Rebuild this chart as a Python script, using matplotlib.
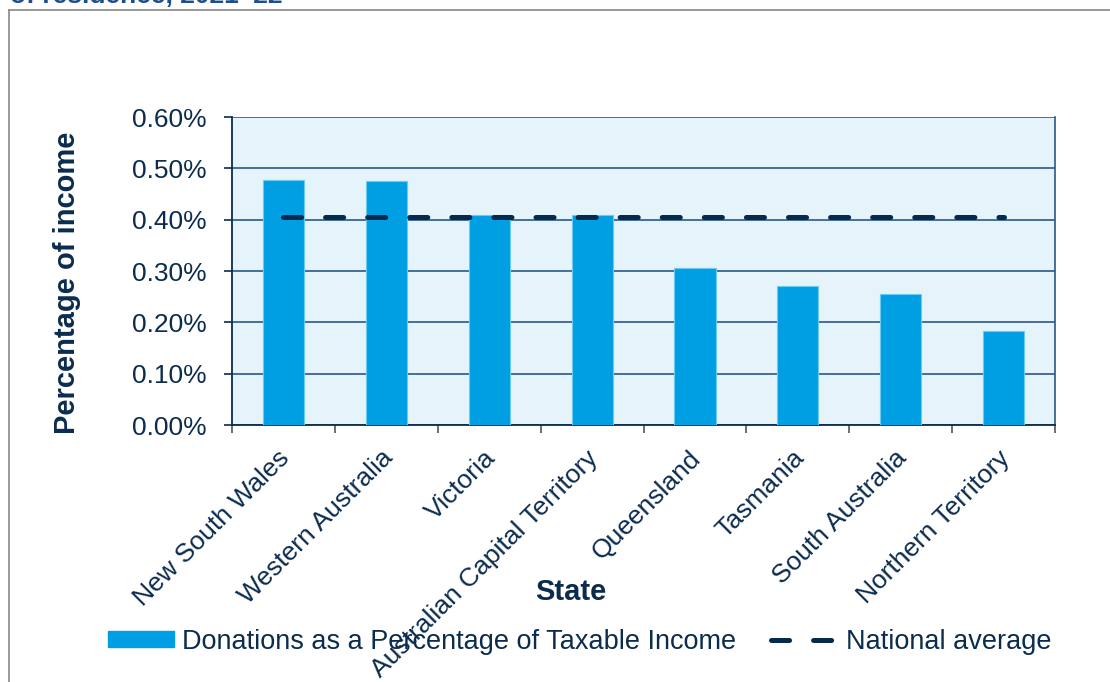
import matplotlib.pyplot as plt
import matplotlib.transforms as mtransforms
from matplotlib.ticker import FuncFormatter, FixedLocator
from matplotlib.lines import Line2D
from matplotlib.patches import Patch

plt.rcParams['font.family'] = ['Liberation Sans', 'DejaVu Sans']
plt.rcParams['lines.scale_dashes'] = False

# donations as a share of taxable income by state, 2021-22 (percent)
states = ['New South Wales', 'Western Australia', 'Victoria',
          'Australian Capital Territory', 'Queensland', 'Tasmania',
          'South Australia', 'Northern Territory']
donation_pct = [0.477, 0.475, 0.409, 0.409, 0.306, 0.270, 0.256, 0.184]
national_avg = 0.406
y_ticks = [0.0, 0.1, 0.2, 0.3, 0.4, 0.5, 0.6]

navy = '#0B2C4E'
bar_blue = '#009FE3'
grid_blue = '#2A5886'
avg_dashes = (13, 17.3)

fig = plt.figure(figsize=(11.1, 6.82), dpi=100)
ax = fig.add_axes([0.209, 0.3768, 0.7415, 0.4516])
ax.set_facecolor('#E5F3FB')

x = list(range(len(states)))
ax.bar(x, donation_pct, width=0.4, color=bar_blue, edgecolor='#6CCBF2',
       linewidth=0.8, zorder=3)
ax.plot([x[0], x[-1]], [national_avg, national_avg], color='#062A4C', lw=3.6,
        dashes=avg_dashes, dash_capstyle='round', zorder=4)

ax.set_xlim(-0.5, len(states) - 0.5)
ax.set_ylim(0, 0.6)
ax.yaxis.set_major_locator(FixedLocator(y_ticks))
ax.yaxis.set_major_formatter(FuncFormatter(lambda v, p: f'{v:.2f}%'))
ax.grid(axis='y', color=grid_blue, lw=1.2, zorder=1)
ax.set_axisbelow(True)

ax.set_xticks(x)
ax.set_xticklabels(states, rotation=45, ha='right', va='top', rotation_mode='anchor')
ax.set_xticks([i - 0.5 for i in range(len(states) + 1)], minor=True)
ax.tick_params(axis='x', which='major', length=0, pad=15, labelsize=19, labelcolor=navy)
ax.tick_params(axis='x', which='minor', length=6, width=1.2, color='#555555')
ax.tick_params(axis='y', length=6, width=1.2, color=navy, labelsize=19,
               labelcolor=navy, pad=12)
shift = mtransforms.ScaledTranslation(-6 / 100, 0, fig.dpi_scale_trans)
for lab in ax.get_xticklabels():
    lab.set_transform(lab.get_transform() + shift)

for side in ['left', 'bottom']:
    ax.spines[side].set_color(navy)
    ax.spines[side].set_linewidth(1.3)
ax.spines['right'].set_color(grid_blue)
ax.spines['right'].set_linewidth(1.2)
ax.spines['top'].set_visible(False)

ax.set_ylabel('Percentage of income', fontsize=21, fontweight='bold', color=navy)
ax.yaxis.set_label_coords(-0.184, 0.461)
fig.text(0.514, 0.132, 'State', fontsize=21, fontweight='bold', color=navy,
         ha='center', va='center')

handles = [Patch(facecolor=bar_blue, edgecolor=bar_blue),
           Line2D([0], [0], color='#062A4C', lw=3.6, dashes=avg_dashes, dash_capstyle='round')]
fig.legend(handles, ['Donations as a Percentage of Taxable Income', 'National average'],
           loc='center', bbox_to_anchor=(0.522, 0.0587), ncol=2, frameon=False,
           fontsize=19.5, labelcolor=navy, handlelength=2.45, handleheight=0.52,
           columnspacing=1.3, handletextpad=0.3)

# chart frame and the heading cut off above it
fig.add_artist(Line2D([9 / 1110, 1.0], [1 - 10 / 682] * 2, transform=fig.transFigure,
                      color='#888888', lw=1.2))
fig.add_artist(Line2D([9 / 1110] * 2, [0, 1 - 10 / 682], transform=fig.transFigure,
                      color='#888888', lw=1.2))
fig.text(10 / 1110, 1 - 3 / 682, 'of residence, 2021\u201322', fontsize=19,
         fontweight='bold', color='#1D4F8F', ha='left', va='baseline')

fig.savefig('out.png', dpi=100)
